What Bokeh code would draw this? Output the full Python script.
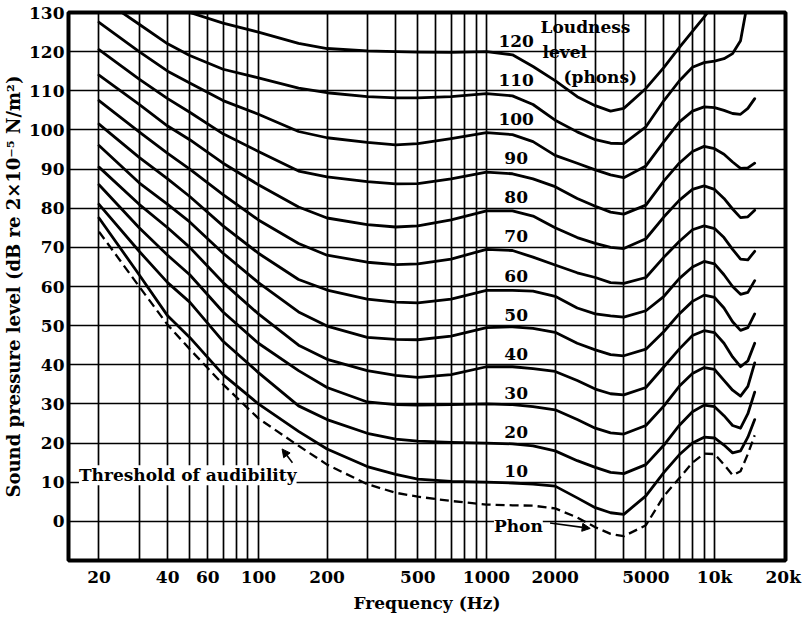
from bokeh.plotting import figure
from bokeh.models import FixedTicker, Label, Arrow, NormalHead, Range1d
from bokeh.embed import file_html
from bokeh.resources import INLINE
from bokeh.core.properties import value

nan = float("nan")

# ---------------- data ----------------
FREQ = [20, 30, 40, 50, 70, 100, 150, 200, 300, 400, 500, 700, 1000, 1300, 1600, 2000,
        2500, 3000, 3500, 4000, 5000, 6000, 7000, 8000, 9000, 10000, 11000, 12000,
        13000, 14000, 15000]

THRESHOLD = [74, 60, 50.2, 44, 35, 26.3, 19.3, 14.5, 9.5, 7.3, 6.3, 5.2, 4.3, 4.1, 4, 3.3,
             1, -1.5, -3.2, -3.8, -1, 6.5, 11, 15, 17.3, 17.2, 14.5, 11.8, 12.8, 17.2, 22]
PHON_10 = [77.5, 63, 52.5, 47, 37.5, 30, 23, 18.5, 14, 12, 10.8, 10.2, 10, 9.8, 9.5, 9,
           6, 3.5, 2.2, 1.8, 6.5, 12.5, 17, 20, 21.5, 21.3, 19.5, 17.5, 18, 21.5, 26]
PHON_20 = [81, 69, 61, 56, 46, 38, 29.5, 26, 22.5, 21, 20.5, 20.2, 20, 19.8, 19.3, 18,
           15.5, 13.8, 12.5, 12.2, 14.5, 19.5, 24.5, 28, 29.7, 29.3, 27, 24.5, 23.8, 27.5, 33]
PHON_30 = [86, 75, 68, 63, 53.5, 45.5, 38.5, 34.2, 30.5, 29.8, 29.7, 29.8, 30, 29.8, 29.3, 28.5,
           26, 23.8, 22.6, 22.3, 24.5, 29.5, 34.5, 37.8, 39.3, 38.8, 36, 33.5, 32, 34.5, 40.5]
PHON_40 = [90.5, 81, 75, 70, 61, 53, 45, 41.4, 38.5, 37.3, 36.8, 37.5, 39.5, 39.5, 39, 38.3,
           36, 33.8, 32.6, 32.3, 34.2, 39.5, 44, 47.5, 48.7, 48.2, 45.5, 42, 39.5, 41, 45.5]
PHON_50 = [96, 86.5, 81, 76.5, 68.5, 61, 53.5, 49.9, 47, 46.5, 46.4, 47.3, 49.5, 49.7, 49.3, 48.3,
           45.5, 43.8, 42.6, 42.3, 44, 48.5, 53, 56.2, 57.8, 57.2, 54.5, 51, 48.8, 49.5, 53]
PHON_60 = [101.5, 93, 87.5, 83, 75.5, 68.5, 61.8, 59.1, 56.8, 56, 55.8, 56.8, 59, 59, 58.8, 57.5,
           54.5, 53, 52.5, 52.2, 53.8, 57.5, 62, 65, 66.4, 65.8, 63, 60, 58, 58.5, 61.5]
PHON_70 = [107.5, 99.5, 94, 90, 83.5, 77, 71, 68, 66.2, 65.6, 65.8, 67, 69.5, 69.2, 67.5, 65.5,
           63.5, 62.3, 61, 60.8, 62.3, 67.5, 71.5, 74.5, 75.5, 74.8, 72.5, 69.5, 67, 66.8, 69]
PHON_80 = [114, 106.5, 101, 97.5, 91.5, 86, 80.3, 77.5, 75.8, 75.2, 75.5, 77, 79.3, 79.3, 78, 75,
           72.5, 71, 70, 69.7, 72.2, 77.8, 82, 84.8, 85.7, 84.8, 82.5, 79.8, 77.6, 77.8, 79.5]
PHON_90 = [120.5, 113, 108, 104.5, 99, 94.5, 89.5, 88, 86.8, 86.2, 86.3, 87.5, 89.2, 88.8, 87.5, 85.5,
           82.5, 80.5, 79, 78.5, 80.8, 87, 91.5, 94.5, 95.8, 95.2, 93.8, 91.8, 90.2, 90.3, 91.5]
PHON_100 = [127.5, 120, 115, 112, 107.5, 104, 99.6, 98, 96.8, 96.2, 96.5, 97.8, 99.3, 98.8, 97, 93.5,
            91.5, 89.8, 88.5, 87.8, 90.8, 97, 102, 104.8, 105.9, 105.7, 105, 104.2, 104, 105.5, 108]
PHON_110 = [134, 127, 122, 119, 115.5, 113.3, 110.7, 109.5, 108.5, 108.2, 108.2, 108.5, 109.3, 108.7, 106.5, 102.5,
            99.5, 97.5, 96.6, 96.5, 100.8, 107.5, 112.5, 116, 117.2, 117.6, 118.2, 119.5, 122.8, 133, nan]
PHON_120 = [nan, nan, 133, 130, 127.3, 125, 122.1, 120.8, 120.2, 120, 119.9, 119.8, 120, 119.2, 116.2, 112.6,
            108.5, 106.2, 104.8, 105.5, 110.6, 116, 121, 125.2, 128.8, 132.5, nan, nan, nan, nan, nan]

PHON_LEVELS = [10, 20, 30, 40, 50, 60, 70, 80, 90, 100, 110, 120]
CURVES = [PHON_10, PHON_20, PHON_30, PHON_40, PHON_50, PHON_60,
          PHON_70, PHON_80, PHON_90, PHON_100, PHON_110, PHON_120]

X_TICKS = [20, 40, 60, 100, 200, 500, 1000, 2000, 5000, 10000, 20000]
X_TICK_LABELS = ["20", "40", "60", "100", "200", "500", "1000", "2000", "5000", "10k", "20k"]
Y_TICKS = [0, 10, 20, 30, 40, 50, 60, 70, 80, 90, 100, 110, 120, 130]
X_GRID = [20, 30, 40, 50, 60, 70, 80, 90, 100, 200, 300, 400, 500, 600, 700, 800, 900,
          1000, 2000, 3000, 4000, 5000, 6000, 7000, 8000, 9000, 10000]
Y_GRID = [-10, 0, 10, 20, 30, 40, 50, 60, 70, 80, 90, 100, 110, 120, 130]

# ---------------- styling / layout ----------------
FONT = "DejaVu Serif"
LABEL_FREQ = 1350      # where the phon numbers are written
LABEL_LIFT = 2.8       # dB above the curve

p = figure(width=805, height=615, x_axis_type="log",
           x_range=Range1d(14.7, 20470), y_range=Range1d(-10, 130),
           output_backend="svg", toolbar_location=None,
           min_border_left=67, min_border_right=20, min_border_top=12, min_border_bottom=52)
p.background_fill_color = "white"
p.border_fill_color = "white"
p.outline_line_color = "black"
p.outline_line_width = 4

p.xgrid.ticker = FixedTicker(ticks=X_GRID)
p.ygrid.ticker = FixedTicker(ticks=Y_GRID)
for g in (p.xgrid, p.ygrid):
    g.grid_line_color = "black"
    g.grid_line_width = 1.7
    g.grid_line_alpha = 1.0

p.xaxis.ticker = FixedTicker(ticks=X_TICKS)
p.xaxis.major_label_overrides = dict(zip(X_TICKS, X_TICK_LABELS))
p.yaxis.ticker = FixedTicker(ticks=Y_TICKS)
for ax in (p.xaxis, p.yaxis):
    ax.axis_line_color = None
    ax.major_tick_line_color = None
    ax.minor_tick_line_color = None
    ax.major_tick_out = 0
    ax.major_tick_in = 0
    ax.minor_tick_out = 0
    ax.minor_tick_in = 0
    ax.major_label_text_font = FONT
    ax.major_label_text_font_style = "bold"
    ax.major_label_text_font_size = "17px"
    ax.major_label_text_color = "black"
    ax.axis_label_text_font = FONT
    ax.axis_label_text_font_style = "bold"
    ax.axis_label_text_color = "black"
p.xaxis.axis_label_text_font_size = "17px"
p.yaxis.axis_label_text_font_size = "18px"
p.xaxis.major_label_standoff = 6
p.yaxis.major_label_standoff = 4
p.xaxis.axis_label = "Frequency (Hz)"
p.xaxis.axis_label_standoff = 3
p.yaxis.axis_label = "Sound pressure level (dB re 2\u00d710\u207b\u2075 N/m\u00b2)"
p.yaxis.axis_label_standoff = 2

for vals in CURVES:
    p.line(FREQ, vals, line_color="black", line_width=2.8, line_join="round", line_cap="round")
p.line(FREQ, THRESHOLD, line_color="black", line_width=2.3, line_dash="9 5")

p.text(x=[LABEL_FREQ] * len(PHON_LEVELS), y=[v + LABEL_LIFT for v in PHON_LEVELS],
       text=[str(v) for v in PHON_LEVELS], text_font=value(FONT), text_font_style="bold",
       text_font_size="17px", text_align="center", text_baseline="middle", text_color="black")

def note(x, y, txt, align="left", bg=None):
    lab = Label(x=x, y=y, text=txt, text_font=FONT, text_font_style="bold",
                text_font_size="17px", text_align=align, text_baseline="middle",
                text_color="black")
    if bg:
        lab.background_fill_color = bg
    p.add_layout(lab)

note(1726, 126.2, "Loudness")
note(1761, 120.0, "level")
note(2176, 113.6, "(phons)")
note(49, 11.8, "Threshold of audibility", align="center", bg="white")
note(1380, -1.1, "Phon", align="center", bg="white")

p.add_layout(Arrow(end=NormalHead(size=8, fill_color="black", line_color="black"),
                   x_start=141, y_start=15.0, x_end=127, y_end=18.5,
                   line_color="black", line_width=1.6))
p.add_layout(Arrow(end=NormalHead(size=8, fill_color="black", line_color="black"),
                   x_start=1900, y_start=-0.4, x_end=2850, y_end=-1.8,
                   line_color="black", line_width=1.6))

open("out.html", "w").write(file_html(p, INLINE))
